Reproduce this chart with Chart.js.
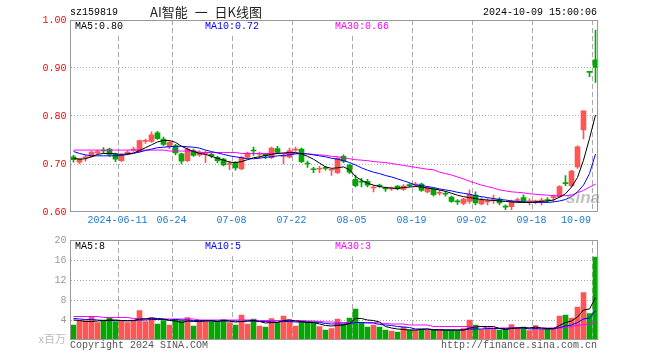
<!DOCTYPE html>
<html><head><meta charset="utf-8">
<script src="https://cdn.jsdelivr.net/npm/chart.js@4/dist/chart.umd.min.js"></script>
<style>
html,body{margin:0;padding:0;background:#fff;}
#wrap{position:relative;width:660px;height:360px;overflow:hidden;background:#fff;}
canvas{position:absolute;left:0;top:0;}
.t{position:absolute;font:10px "Liberation Mono",monospace;line-height:12px;white-space:pre;}
.bg{background:#fff;}
</style></head><body>
<div id="wrap">
<canvas id="price" width="660" height="360"></canvas>
<canvas id="vol" width="660" height="360"></canvas>
<div class="t" style="left:70px;top:7px;color:#000">sz159819</div>
<div class="t" style="left:150px;top:3px;font:13px 'Noto Sans CJK SC';line-height:17px;word-spacing:4px;color:#222">AI智能 一 日K线图</div>
<div class="t" style="right:63px;top:7px;color:#000">2024-10-09 15:00:06</div>
<div class="t bg" id="pm5" style="left:75px;top:21px;color:#000"></div>
<div class="t bg" id="pm10" style="left:205px;top:21px;color:#0000ff"></div>
<div class="t bg" id="pm30" style="left:335px;top:21px;color:#ff00ff"></div>
<div class="t bg" id="vm5" style="left:75px;top:241px;color:#000"></div>
<div class="t bg" id="vm10" style="left:205px;top:241px;color:#0000ff"></div>
<div class="t bg" id="vm30" style="left:335px;top:241px;color:#ff00ff"></div>
<div class="t" style="right:594px;top:331px;font:11px 'Noto Sans CJK SC';line-height:15px;color:#bbb">x百万</div>
<div class="t" style="left:70px;top:340px;color:#555">Copyright 2024 SINA.COM</div>
<div class="t" style="right:63px;top:340px;color:#555">http://finance.sina.com.cn</div>
<div class="t" style="left:566px;top:188px;font:italic bold 17px 'Liberation Sans';line-height:20px;color:rgba(140,140,140,0.55)">sina</div>
</div>
<script>
const dates = [
'2024-05-29','2024-05-30','2024-05-31','2024-06-03','2024-06-04','2024-06-05','2024-06-06','2024-06-07','2024-06-11','2024-06-12',
'2024-06-13','2024-06-14','2024-06-17','2024-06-18','2024-06-19','2024-06-20','2024-06-21','2024-06-24','2024-06-25','2024-06-26',
'2024-06-27','2024-06-28','2024-07-01','2024-07-02','2024-07-03','2024-07-04','2024-07-05','2024-07-08','2024-07-09','2024-07-10',
'2024-07-11','2024-07-12','2024-07-15','2024-07-16','2024-07-17','2024-07-18','2024-07-19','2024-07-22','2024-07-23','2024-07-24',
'2024-07-25','2024-07-26','2024-07-29','2024-07-30','2024-07-31','2024-08-01','2024-08-02','2024-08-05','2024-08-06','2024-08-07',
'2024-08-08','2024-08-09','2024-08-12','2024-08-13','2024-08-14','2024-08-15','2024-08-16','2024-08-19','2024-08-20','2024-08-21',
'2024-08-22','2024-08-23','2024-08-26','2024-08-27','2024-08-28','2024-08-29','2024-08-30','2024-09-02','2024-09-03','2024-09-04',
'2024-09-05','2024-09-06','2024-09-09','2024-09-10','2024-09-11','2024-09-12','2024-09-13','2024-09-18','2024-09-19','2024-09-20',
'2024-09-23','2024-09-24','2024-09-25','2024-09-26','2024-09-27','2024-09-30','2024-10-08','2024-10-09'];

const open = [
0.715,0.704,0.713,0.716,0.723,0.729,0.731,0.721,0.707,0.722,
0.729,0.726,0.747,0.747,0.765,0.752,0.736,0.738,0.721,0.707,
0.728,0.719,0.721,0.720,0.714,0.710,0.699,0.703,0.690,0.714,
0.729,0.720,0.720,0.713,0.732,0.716,0.714,0.729,0.731,0.702,
0.690,0.689,0.693,0.687,0.682,0.716,0.698,0.668,0.664,0.664,
0.650,0.656,0.650,0.648,0.654,0.647,0.657,0.656,0.658,0.642,
0.648,0.639,0.639,0.631,0.623,0.618,0.622,0.635,0.617,0.621,
0.624,0.627,0.612,0.611,0.624,0.630,0.621,0.621,0.623,0.626,
0.630,0.632,0.661,0.655,0.694,0.771,0.891,0.917];
const high = [
0.718,0.712,0.718,0.727,0.729,0.734,0.733,0.723,0.721,0.728,
0.735,0.750,0.752,0.767,0.768,0.756,0.748,0.741,0.723,0.734,
0.731,0.728,0.727,0.723,0.716,0.712,0.706,0.705,0.716,0.725,
0.735,0.725,0.722,0.735,0.737,0.721,0.733,0.735,0.733,0.706,
0.693,0.695,0.695,0.690,0.714,0.719,0.700,0.677,0.670,0.668,
0.655,0.658,0.652,0.652,0.655,0.657,0.659,0.662,0.660,0.653,
0.650,0.645,0.643,0.633,0.626,0.629,0.646,0.642,0.630,0.628,
0.635,0.630,0.615,0.625,0.629,0.636,0.628,0.625,0.629,0.630,
0.636,0.655,0.676,0.687,0.738,0.811,0.891,0.979];
const low = [
0.704,0.700,0.706,0.714,0.720,0.722,0.716,0.705,0.705,0.719,
0.726,0.724,0.743,0.745,0.751,0.738,0.732,0.719,0.700,0.705,
0.716,0.716,0.703,0.713,0.703,0.696,0.688,0.687,0.688,0.712,
0.718,0.713,0.711,0.711,0.722,0.700,0.712,0.726,0.703,0.693,
0.682,0.682,0.687,0.676,0.680,0.703,0.680,0.652,0.652,0.652,
0.642,0.651,0.643,0.645,0.646,0.645,0.652,0.653,0.643,0.640,
0.633,0.635,0.633,0.620,0.616,0.615,0.618,0.615,0.615,0.615,
0.618,0.615,0.605,0.605,0.620,0.620,0.615,0.617,0.615,0.620,
0.622,0.630,0.655,0.652,0.691,0.752,0.882,0.870];
const close = [
0.709,0.711,0.715,0.725,0.726,0.727,0.720,0.710,0.718,0.725,
0.731,0.749,0.749,0.761,0.753,0.741,0.745,0.723,0.706,0.731,
0.718,0.725,0.723,0.717,0.707,0.698,0.701,0.692,0.714,0.723,
0.727,0.722,0.717,0.733,0.724,0.718,0.728,0.731,0.705,0.700,
0.688,0.691,0.691,0.689,0.712,0.706,0.683,0.655,0.662,0.656,
0.652,0.654,0.648,0.650,0.648,0.654,0.655,0.658,0.645,0.651,
0.636,0.641,0.637,0.622,0.621,0.627,0.637,0.619,0.626,0.623,
0.626,0.619,0.610,0.622,0.626,0.622,0.623,0.622,0.625,0.624,
0.632,0.653,0.659,0.685,0.736,0.811,0.891,0.901];

const ma5 = [
0.712,0.710,0.711,0.715,0.720,0.722,0.722,0.721,0.720,0.721,
0.723,0.728,0.734,0.740,0.746,0.749,0.749,0.745,0.737,0.731,
0.726,0.722,0.720,0.716,0.712,0.708,0.704,0.703,0.705,0.709,
0.713,0.715,0.718,0.720,0.722,0.723,0.724,0.724,0.721,0.716,
0.710,0.702,0.694,0.691,0.692,0.694,0.688,0.674,0.666,0.660,
0.656,0.653,0.651,0.650,0.649,0.651,0.652,0.653,0.652,0.650,
0.648,0.646,0.643,0.639,0.635,0.632,0.630,0.628,0.626,0.625,
0.624,0.623,0.622,0.621,0.620,0.620,0.620,0.621,0.622,0.623,
0.625,0.631,0.638,0.652,0.672,0.708,0.753,0.802];
const ma10 = [
0.726,0.722,0.719,0.717,0.717,0.717,0.717,0.717,0.718,0.720,
0.722,0.725,0.728,0.731,0.734,0.735,0.736,0.737,0.737,0.736,
0.735,0.733,0.729,0.726,0.723,0.720,0.717,0.715,0.713,0.711,
0.711,0.712,0.714,0.715,0.717,0.718,0.719,0.721,0.722,0.721,
0.719,0.717,0.715,0.712,0.710,0.707,0.703,0.698,0.692,0.687,
0.683,0.680,0.676,0.673,0.669,0.665,0.661,0.656,0.655,0.653,
0.651,0.648,0.646,0.644,0.641,0.639,0.637,0.634,0.632,0.630,
0.628,0.626,0.625,0.623,0.622,0.621,0.620,0.620,0.620,0.620,
0.621,0.623,0.626,0.632,0.642,0.656,0.680,0.721];
const ma30 = [
0.729,0.729,0.729,0.729,0.729,0.729,0.729,0.729,0.729,0.729,
0.729,0.729,0.729,0.729,0.729,0.729,0.727,0.727,0.727,0.727,
0.727,0.724,0.724,0.724,0.724,0.724,0.724,0.724,0.722,0.722,
0.722,0.722,0.722,0.722,0.722,0.722,0.722,0.722,0.722,0.721,
0.720,0.719,0.718,0.716,0.715,0.713,0.711,0.709,0.708,0.707,
0.705,0.704,0.703,0.701,0.699,0.697,0.695,0.693,0.691,0.689,
0.688,0.683,0.680,0.677,0.673,0.669,0.664,0.660,0.656,0.653,
0.650,0.646,0.644,0.642,0.641,0.640,0.638,0.637,0.636,0.635,
0.634,0.634,0.634,0.635,0.640,0.645,0.652,0.658];

const volume = [
3.0,3.9,3.9,4.7,3.5,4.0,4.5,3.7,3.9,3.5,
4.0,5.9,3.7,4.5,3.2,3.9,3.0,4.1,3.9,4.5,
2.8,3.9,3.9,3.7,3.7,4.1,3.5,3.0,5.0,3.2,
4.2,2.8,2.6,4.3,3.5,4.8,4.1,2.8,3.7,3.7,
3.5,2.7,2.0,2.3,4.2,3.2,4.4,6.2,3.5,2.6,
3.0,2.6,2.0,1.8,1.6,2.6,2.0,2.0,2.2,2.0,
2.0,2.0,2.0,2.0,1.9,2.3,4.0,3.0,2.1,2.2,
2.2,2.0,2.1,3.1,2.5,2.6,1.9,2.9,2.1,2.3,
2.4,4.8,5.0,4.4,6.6,9.5,5.3,16.6];
const volMa5 = [
4.0,3.9,3.7,3.7,3.8,3.9,4.0,4.0,3.9,3.8,
3.9,4.2,4.2,4.4,4.3,4.2,3.9,3.8,3.5,3.8,
3.7,3.7,3.8,3.8,3.7,3.9,3.8,3.6,3.7,3.8,
3.9,3.7,3.4,3.5,3.5,3.9,4.0,3.8,3.7,3.5,
3.5,3.2,2.9,2.8,2.9,3.0,3.3,4.3,4.3,4.0,
3.9,3.6,2.7,2.4,2.2,2.1,2.0,2.0,2.1,2.2,
2.0,2.0,2.0,2.0,2.0,2.0,2.4,2.6,2.7,2.7,
2.7,2.3,2.1,2.3,2.4,2.5,2.4,2.6,2.4,2.3,
2.3,2.9,3.5,3.8,4.6,6.0,6.2,8.5];
const volMa10 = [
4.3,4.2,4.1,4.1,4.0,3.9,3.9,3.9,3.9,3.9,
3.9,4.0,4.0,4.1,4.1,4.1,4.0,4.1,4.0,4.0,
3.9,3.9,3.9,3.9,3.8,3.8,3.8,3.8,3.7,3.8,
3.8,3.7,3.7,3.6,3.6,3.7,3.7,3.6,3.6,3.6,
3.6,3.5,3.3,3.2,3.2,3.2,3.3,3.5,3.5,3.4,
3.4,3.1,3.0,2.9,2.7,2.6,2.5,2.2,2.2,2.2,
2.1,2.1,2.0,2.0,2.0,2.0,2.2,2.2,2.2,2.3,
2.3,2.3,2.3,2.4,2.4,2.4,2.2,2.3,2.2,2.2,
2.2,2.5,2.8,3.0,3.5,4.2,4.4,5.9];
const volMa30 = [
4.7,4.7,4.7,4.7,4.7,4.5,4.5,4.5,4.5,4.5,
4.3,4.3,4.3,4.3,4.2,4.2,4.2,4.2,4.2,4.2,
4.2,4.0,4.0,4.0,4.0,4.0,4.0,4.0,4.0,4.0,
4.0,3.9,3.9,3.9,3.9,3.9,3.9,3.9,3.9,3.8,
3.8,3.7,3.6,3.6,3.5,3.5,3.5,3.5,3.5,3.5,
3.5,3.4,3.3,3.2,3.2,3.2,3.0,3.0,3.0,3.0,
2.7,2.7,2.7,2.7,2.7,2.7,2.7,2.7,2.7,2.4,
2.4,2.4,2.4,2.4,2.4,2.4,2.4,2.4,2.4,2.4,
2.4,2.4,2.5,2.7,2.9,3.1,3.2,3.4];

const tickDates = ['2024-06-11','2024-06-24','2024-07-08','2024-07-22','2024-08-05','2024-08-19','2024-09-02','2024-09-18','2024-10-09'];
const tickTexts = ['2024-06-11','06-24','07-08','07-22','08-05','08-19','09-02','09-18','10-09'];
const priceTicks = [0.60,0.70,0.80,0.90,1.00];
const volTicks = [0,4,8,12,16,20];

const RED = '#ff5555', GREEN = '#00a800', GRID = '#aaaaaa', FRAME = '#999999';
const MONO = 'Liberation Mono';
const candleColors = close.map((c, i) => c > open[i] ? RED : GREEN);
const gridIdx = tickDates.map(d => dates.indexOf(d));

document.getElementById('pm5').textContent = 'MA5:' + ma5[ma5.length-1].toFixed(2);
document.getElementById('pm10').textContent = 'MA10:' + ma10[ma10.length-1].toFixed(2);
document.getElementById('pm30').textContent = 'MA30:' + ma30[ma30.length-1].toFixed(2);
document.getElementById('vm5').textContent = 'MA5:' + Math.floor(volMa5[volMa5.length-1]);
document.getElementById('vm10').textContent = 'MA10:' + Math.floor(volMa10[volMa10.length-1]);
document.getElementById('vm30').textContent = 'MA30:' + Math.floor(volMa30[volMa30.length-1]);

const frame = {
  id: 'frame',
  afterDraw(chart) {
    const {ctx, chartArea: a} = chart;
    ctx.save();
    ctx.strokeStyle = FRAME; ctx.lineWidth = 1;
    ctx.strokeRect(a.left, a.top + 0.5, a.right - 1 - a.left, a.bottom - a.top - 1);
    ctx.restore();
  }
};
const xLabels = {
  id: 'xLabels',
  afterDraw(chart) {
    const xs = chart.scales.x, ctx = chart.ctx;
    const step = xs.getPixelForValue(1) - xs.getPixelForValue(0);
    ctx.save();
    ctx.font = '10px "' + MONO + '"';
    ctx.fillStyle = '#1a7ad0';
    ctx.textAlign = 'center'; ctx.textBaseline = 'middle';
    tickDates.forEach((d, k) => {
      const i = dates.indexOf(d);
      const gx = Math.floor(xs.getPixelForValue(i) - step / 2);
      const w = ctx.measureText(tickTexts[k]).width;
      let cx = gx - 0.5;
      if (k === tickDates.length - 1) cx = gx - 1 - w / 2;
      ctx.fillText(tickTexts[k], cx, 220);
    });
    ctx.restore();
  }
};

function xScale() {
  return {
    type: 'category', offset: true,
    ticks: { display: false, autoSkip: false },
    grid: { offset: true, drawTicks: false, lineWidth: 1,
      color: c => gridIdx.includes(c.index) ? GRID : 'rgba(0,0,0,0)' },
    border: { display: false, dash: [5, 3] },
    afterFit: s => { s.height = 0; }
  };
}
const common = {
  responsive: false, animation: false, devicePixelRatio: 1, events: [],
  plugins: { legend: { display: false }, tooltip: { enabled: false } }
};

new Chart(document.getElementById('price'), {
  type: 'bar',
  data: {
    labels: dates,
    datasets: [
      { type: 'line', data: ma5, borderColor: '#000000', borderWidth: 1, pointRadius: 0, tension: 0, order: 0 },
      { type: 'line', data: ma10, borderColor: '#0000ff', borderWidth: 1, pointRadius: 0, tension: 0, order: 0 },
      { type: 'line', data: ma30, borderColor: '#ff00ff', borderWidth: 1, pointRadius: 0, tension: 0, order: 0 },
      { type: 'bar', data: open.map((o, i) => [open[i], close[i]]), backgroundColor: candleColors,
        barThickness: 5, grouped: false, minBarLength: 1, order: 1 },
      { type: 'bar', data: low.map((l, i) => [low[i], high[i]]), backgroundColor: candleColors,
        barThickness: 1, grouped: false, order: 2 }
    ]
  },
  options: Object.assign({}, common, {
    layout: { padding: { left: 0.5, right: 61.5, top: 20, bottom: 148 } },
    scales: {
      x: xScale(),
      y: {
        min: priceTicks[0], max: priceTicks[priceTicks.length - 1],
        afterBuildTicks: s => { s.ticks = priceTicks.map(v => ({ value: v })); },
        ticks: { callback: v => Number(v).toFixed(2), color: '#ff0000',
          font: { family: MONO, size: 10 }, padding: 4 },
        grid: { drawTicks: false, lineWidth: 1,
          color: c => (c.tick && c.tick.value > 0.6001 && c.tick.value < 0.9999) ? GRID : 'rgba(0,0,0,0)' },
        border: { display: false, dash: [1, 2] },
        afterFit: s => { s.width = 70; }
      }
    }
  }),
  plugins: [frame, xLabels]
});

new Chart(document.getElementById('vol'), {
  type: 'bar',
  data: {
    labels: dates,
    datasets: [
      { type: 'line', data: volMa5, borderColor: '#000000', borderWidth: 1, pointRadius: 0, tension: 0, order: 0 },
      { type: 'line', data: volMa10, borderColor: '#0000ff', borderWidth: 1, pointRadius: 0, tension: 0, order: 0 },
      { type: 'line', data: volMa30, borderColor: '#ff00ff', borderWidth: 1, pointRadius: 0, tension: 0, order: 0 },
      { type: 'bar', data: volume, backgroundColor: candleColors, barThickness: 5, grouped: false, order: 1 }
    ]
  },
  options: Object.assign({}, common, {
    layout: { padding: { left: 0.5, right: 61.5, top: 240, bottom: 20 } },
    scales: {
      x: xScale(),
      y: {
        min: volTicks[0], max: volTicks[volTicks.length - 1],
        afterBuildTicks: s => { s.ticks = volTicks.map(v => ({ value: v })); },
        ticks: { callback: v => v === 0 ? '' : String(v), color: '#999999',
          font: { family: MONO, size: 10 }, padding: 4 },
        grid: { drawTicks: false, lineWidth: 1,
          color: c => (c.tick && c.tick.value > 0 && c.tick.value < 20) ? GRID : 'rgba(0,0,0,0)' },
        border: { display: false, dash: [1, 2] },
        afterFit: s => { s.width = 70; }
      }
    }
  }),
  plugins: [frame]
});
</script>
</body></html>
